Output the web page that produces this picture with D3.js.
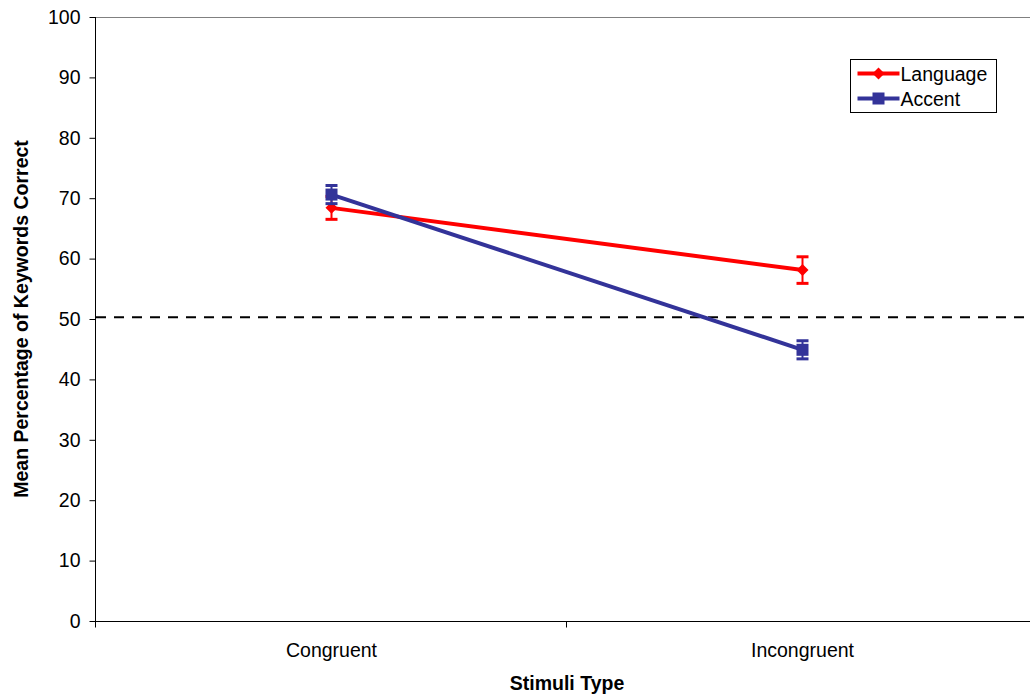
<!DOCTYPE html>
<html>
<head>
<meta charset="utf-8">
<script src="https://cdn.jsdelivr.net/npm/d3@7"></script>
<style>
  body { margin: 0; background: #fff; }
  svg text { font-family: "Liberation Sans", Arial, sans-serif; }
</style>
</head>
<body>
<svg id="chart" width="1030" height="695"></svg>
<script>
var categories = ['Congruent', 'Incongruent'];
var seriesNames = ['Language', 'Accent'];
var languageMeans = [68.4, 58.1];
var languageErr = [1.9, 2.2];
var accentMeans = [70.6, 44.9];
var accentErr = [1.5, 1.5];
var chanceLevel = 50.3;
var yTicks = [0, 10, 20, 30, 40, 50, 60, 70, 80, 90, 100];

function draw()
{
    var svg = d3.select('#chart');
    var plotLeft = 96, plotRight = 1038, plotTop = 17, plotBottom = 621;
    var fs = 19.5;

    var x = d3.scaleBand().domain(categories).range([plotLeft, plotRight]);
    var y = d3.scaleLinear().domain([0, 100]).range([plotBottom, plotTop]);

    // plot area border (top)
    svg.append('line')
        .attr('x1', plotLeft).attr('x2', 1030)
        .attr('y1', plotTop + 0.5).attr('y2', plotTop + 0.5)
        .attr('stroke', '#808080').attr('stroke-width', 1);

    // y axis
    var yAxis = d3.axisLeft(y).tickValues(yTicks).tickSize(6).tickPadding(9);
    var gy = svg.append('g').attr('transform', 'translate(' + (plotLeft - 0.5) + ',0)').call(yAxis);
    gy.select('.domain').attr('stroke', '#000').attr('d', 'M0,' + plotTop + 'V' + plotBottom);
    gy.selectAll('line').attr('stroke', '#000');
    gy.selectAll('text').attr('font-size', fs).attr('fill', '#000')
        .attr('font-family', '"Liberation Sans", Arial, sans-serif');

    // x axis
    var gx = svg.append('g').attr('transform', 'translate(0,' + (plotBottom + 0.5) + ')');
    gx.append('line').attr('x1', plotLeft - 6).attr('x2', 1030).attr('y1', 0).attr('y2', 0).attr('stroke', '#000');
    var bounds = [plotLeft, x(categories[1])];
    gx.selectAll('.tk').data(bounds).enter().append('line')
        .attr('x1', function(d) { return Math.round(d) - 0.5; })
        .attr('x2', function(d) { return Math.round(d) - 0.5; })
        .attr('y1', 0).attr('y2', 6).attr('stroke', '#000');
    gx.selectAll('.lbl').data(categories).enter().append('text')
        .attr('x', function(d) { return x(d) + x.bandwidth() / 2; })
        .attr('y', 35.5)
        .attr('text-anchor', 'middle')
        .attr('font-size', fs)
        .text(function(d) { return d; });

    // axis titles
    svg.append('text')
        .attr('x', x(categories[0]) + x.bandwidth())
        .attr('y', 690)
        .attr('text-anchor', 'middle')
        .attr('font-size', fs).attr('font-weight', 'bold')
        .text('Stimuli Type');
    svg.append('text')
        .attr('transform', 'translate(28,' + ((plotTop + plotBottom) / 2) + ') rotate(-90)')
        .attr('text-anchor', 'middle')
        .attr('font-size', fs).attr('font-weight', 'bold')
        .text('Mean Percentage of Keywords Correct');

    // chance line
    svg.append('line')
        .attr('x1', plotLeft).attr('x2', 1030)
        .attr('y1', y(chanceLevel)).attr('y2', y(chanceLevel))
        .attr('stroke', '#000').attr('stroke-width', 2)
        .attr('stroke-dasharray', '10,8');

    var series = [
        { name: seriesNames[0], means: languageMeans, err: languageErr, color: '#ff0000', shape: 'diamond' },
        { name: seriesNames[1], means: accentMeans, err: accentErr, color: '#333399', shape: 'square' }
    ];

    function cx(i) { return x(categories[i]) + x.bandwidth() / 2; }

    function marker(g, shape, px, py, color)
    {
        if (shape === 'diamond') {
            g.append('path')
                .attr('d', 'M' + px + ',' + (py - 6) + 'L' + (px + 6) + ',' + py + 'L' + px + ',' + (py + 6) + 'L' + (px - 6) + ',' + py + 'Z')
                .attr('fill', color);
        } else {
            g.append('rect')
                .attr('x', px - 6).attr('y', py - 6).attr('width', 12).attr('height', 12)
                .attr('fill', color);
        }
    }

    series.forEach(function(s) {
        var g = svg.append('g');
        var line = d3.line()
            .x(function(d, i) { return cx(i); })
            .y(function(d) { return y(d); });
        g.append('path').datum(s.means)
            .attr('d', line)
            .attr('fill', 'none')
            .attr('stroke', s.color).attr('stroke-width', 4);
        s.means.forEach(function(m, i) {
            var px = cx(i);
            g.append('line').attr('x1', px).attr('x2', px)
                .attr('y1', y(m - s.err[i])).attr('y2', y(m + s.err[i]))
                .attr('stroke', s.color).attr('stroke-width', 2);
            [m - s.err[i], m + s.err[i]].forEach(function(v) {
                g.append('line').attr('x1', px - 6).attr('x2', px + 6)
                    .attr('y1', y(v)).attr('y2', y(v))
                    .attr('stroke', s.color).attr('stroke-width', 3);
            });
            marker(g, s.shape, px, y(m), s.color);
        });
    });

    // legend
    var lg = svg.append('g').attr('transform', 'translate(850.5,59.5)');
    lg.append('rect').attr('width', 146).attr('height', 53)
        .attr('fill', '#fff').attr('stroke', '#000').attr('stroke-width', 1);
    series.forEach(function(s, i) {
        var ly = 14 + i * 25;
        lg.append('line').attr('x1', 7).attr('x2', 49).attr('y1', ly).attr('y2', ly)
            .attr('stroke', s.color).attr('stroke-width', 4);
        marker(lg, s.shape, 28, ly, s.color);
        lg.append('text').attr('x', 50).attr('y', ly + 7)
            .attr('font-size', fs).text(s.name);
    });
}
draw();
</script>
</body>
</html>
